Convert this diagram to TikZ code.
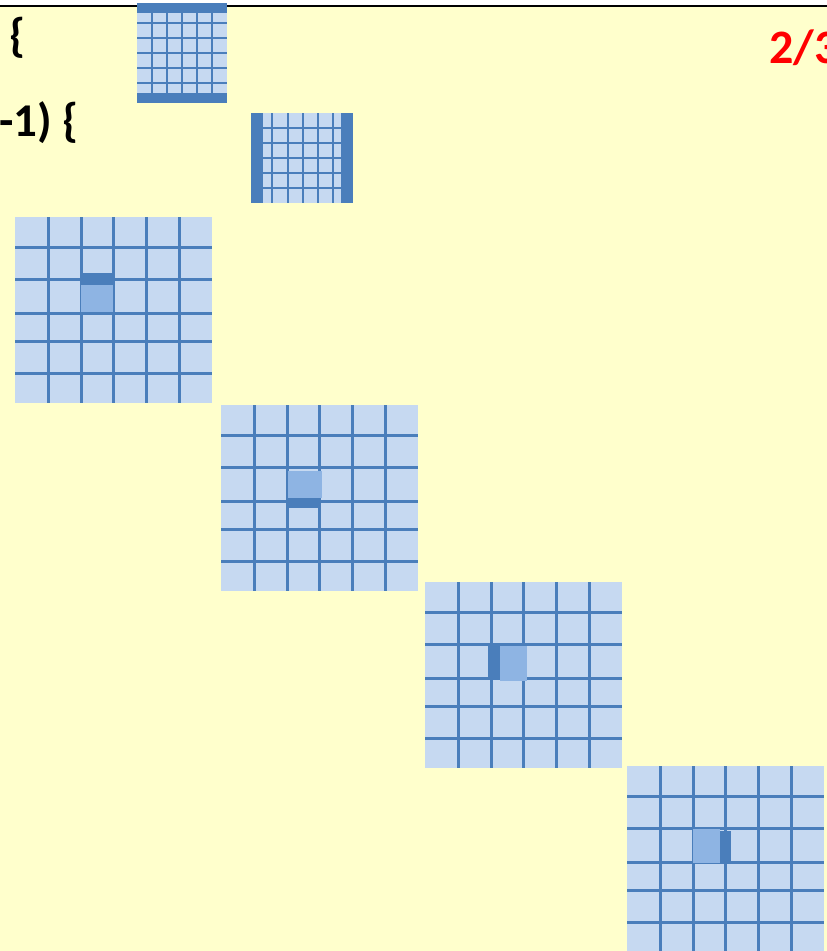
\documentclass[tikz,border=0pt]{standalone}
\usepackage{fontspec}
\setmainfont{Carlito}
\usetikzlibrary{positioning}
\definecolor{slidebg}{HTML}{FFFFCC}
\definecolor{cellfill}{HTML}{C6D9F1}
\definecolor{gridblue}{HTML}{4A7EBB}
\definecolor{cellhi}{HTML}{8EB4E3}
\definecolor{pagered}{HTML}{FF0000}

% one 6x6 tile, origin at its top left corner
\newcommand{\tilegrid}[2]{%
  \fill[cellfill] (#1,#2) rectangle ++(197,186);
  \foreach \dx in {33,66,98,131,164} \draw[gridln] (#1+\dx,#2) -- ++(0,186);
  \foreach \dy in {30,62,96,124,156} \draw[gridln] (#1,#2+\dy) -- ++(197,0);
}

\begin{document}
\begin{tikzpicture}[
  x=1pt, y=-1pt,
  gridln/.style={draw=gridblue, line width=3pt},
  thinln/.style={draw=gridblue, line width=2.5pt},
  edgebar/.style={fill=gridblue},
  hicell/.style={fill=cellhi},
  codetxt/.style={font=\fontsize{47}{56}\selectfont\bfseries, inner sep=0pt},
]
\useasboundingbox (0,0) rectangle (827,951);
\clip (0,0) rectangle (827,951);
\fill[slidebg] (0,6) rectangle (827,951);
\draw[black, line width=2.5pt] (0,6) -- (827,6);

% code fragments
\node[codetxt, anchor=base west] (brace) at (9,51) {\{};
\node[codetxt, anchor=base west] (loophead) at (-1,136) {-1) \{};
\node[codetxt, anchor=base east] (semi) at (4,522) {;};
\node[font=\fontsize{48}{58}\selectfont\bfseries, text=pagered, inner sep=0pt, anchor=base west] (pagenum) at (769,63) {2/3};

% row halo tile
\fill[cellfill] (137,3) rectangle (227,103);
\foreach \x in {152,167,182,197,212} \draw[thinln] (\x,3) -- (\x,103);
\foreach \y in {23,38,53,68,83} \draw[thinln] (137,\y) -- (227,\y);
\fill[edgebar] (137,3) rectangle (227,13);
\fill[edgebar] (137,93) rectangle (227,103);

% column halo tile
\fill[cellfill] (251,113) rectangle (353,203);
\foreach \x in {272,288,303,318,333} \draw[thinln] (\x,113) -- (\x,203);
\foreach \y in {128,143,158,173,188} \draw[thinln] (251,\y) -- (353,\y);
\fill[edgebar] (251,113) rectangle (263,203);
\fill[edgebar] (341,113) rectangle (353,203);

% north
\tilegrid{15}{217}
\fill[edgebar] (81,273) rectangle (113,285);
\fill[hicell] (81,285) rectangle (113,312);

% south
\tilegrid{221}{405}
\fill[hicell] (288,471) rectangle (322,498);
\fill[edgebar] (288,498) rectangle (320,508);

% west
\tilegrid{425}{582}
\fill[edgebar] (488,646) rectangle (500,677);
\fill[hicell] (500,646) rectangle (527,681);

% east
\tilegrid{627}{766}
\fill[hicell] (693,829) rectangle (720,863);
\fill[edgebar] (720,831) rectangle (731,861);
\end{tikzpicture}
\end{document}
